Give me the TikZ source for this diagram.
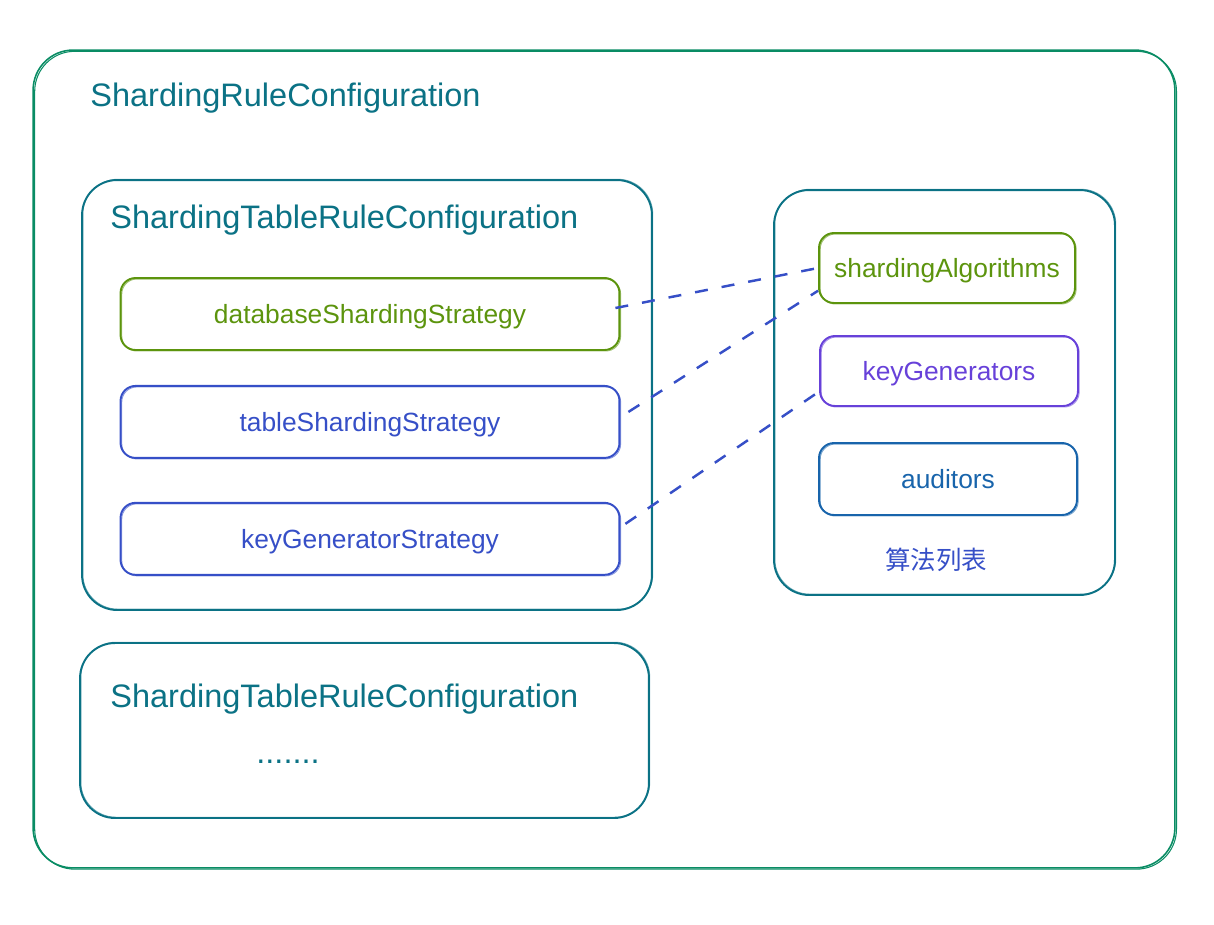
\documentclass[tikz,border=0pt]{standalone}
\usepackage{fontspec}
\setmainfont{Liberation Sans}
\newfontfamily\cjk{Noto Sans CJK SC}
\usetikzlibrary{positioning,calc}
\definecolor{framecol}{RGB}{9,140,100}
\definecolor{tealcol}{RGB}{11,114,133}
\definecolor{greencol}{RGB}{92,148,13}
\definecolor{bluecol}{RGB}{54,79,199}
\definecolor{violetcol}{RGB}{103,65,217}
\definecolor{audcol}{RGB}{24,100,171}
\tikzset{frame/.style={
            draw=framecol,
            line width=0.9pt,
            rounded corners=0.8cm,
            inner sep=0pt,
            postaction={draw=framecol, line width=0.6pt,
                transform canvas={shift={(0.9pt,-0.7pt)}}}
        },
        group/.style={
            draw=tealcol,
            line width=1.1pt,
            rounded corners=0.7cm,
            inner sep=0pt,
            postaction={draw=tealcol, line width=0.4pt, opacity=0.6,
                transform canvas={shift={(0.5pt,0.5pt)}}}
        },
        item/.style={
            draw=#1,
            text=#1,
            line width=1.1pt,
            rounded corners=0.3cm,
            inner sep=0pt,
            text height=1.3em,
            text depth=0.21em,
            font=\fontsize{15}{18}\selectfont,
            postaction={draw=#1, line width=0.5pt, opacity=0.6,
                transform canvas={shift={(0.7pt,-0.6pt)}}}
        },
        title/.style={
            text=tealcol,
            inner sep=0pt,
            anchor=west,
            font=\fontsize{18.5}{22}\selectfont
        },
        link/.style={
            draw=bluecol,
            dash pattern=on 7.4pt off 8pt,
            line width=1.4pt
        }
    }
\begin{document}
\begin{tikzpicture}[x=0.02cm,y=-0.02cm]
        \useasboundingbox (0,0) rectangle (1214,924);
        % outer rule configuration
        \node[frame, minimum width=22.84cm, minimum height=16.36cm] (rulecfg) at (604,459) {};
        \node[title] (ruletitle) at (90,98) {ShardingRuleConfiguration};
        % first table rule
        \node[group, minimum width=11.4cm, minimum height=8.6cm] (tablecfg) at (367,395) {};
        \node[title] (tabletitle) at (110,220) {ShardingTableRuleConfiguration};
        \node[item=greencol, minimum width=9.98cm, minimum height=1.44cm] (dbstrat) at (370,314) {databaseShardingStrategy};
        \node[item=bluecol, minimum width=9.98cm, minimum height=1.44cm, below=0.68cm of dbstrat] (tablestrat) {tableShardingStrategy};
        \node[item=bluecol, minimum width=9.98cm, minimum height=1.44cm, below=0.86cm of tablestrat] (keystrat) {keyGeneratorStrategy};
        % algorithm list
        \node[group, minimum width=6.82cm, minimum height=8.1cm] (algolist) at (944.5,392.5) {};
        \node[item=greencol, minimum width=5.12cm, minimum height=1.4cm] (algos) at (947,268) {shardingAlgorithms};
        \node[item=violetcol, minimum width=5.16cm, minimum height=1.4cm] (keygens) at (949,371) {keyGenerators};
        \node[item=audcol, minimum width=5.16cm, minimum height=1.44cm] (auditors) at (948,479) {auditors};
        \node[text=bluecol, inner sep=0pt, font=\cjk\fontsize{14.5}{17}\selectfont] (listlabel) at (936,560) {算法列表};
        % second table rule
        \node[group, minimum width=11.38cm, minimum height=3.5cm] (tablecfg2) at (364.5,730.5) {};
        \node[title] (tabletitle2) at (110,699) {ShardingTableRuleConfiguration};
        \node[title, anchor=base] (more) at (288,763) {.......};
        % links
        \draw[link] ([xshift=-0.1cm,yshift=0.12cm]dbstrat.east) -- (algos.west);
        \draw[link] ([xshift=0.16cm,yshift=0.2cm]tablestrat.east) -- (algos.190);
        \draw[link] ([xshift=0.1cm,yshift=0.3cm]keystrat.east) -- (keygens.189);
    \end{tikzpicture}
\end{document}
